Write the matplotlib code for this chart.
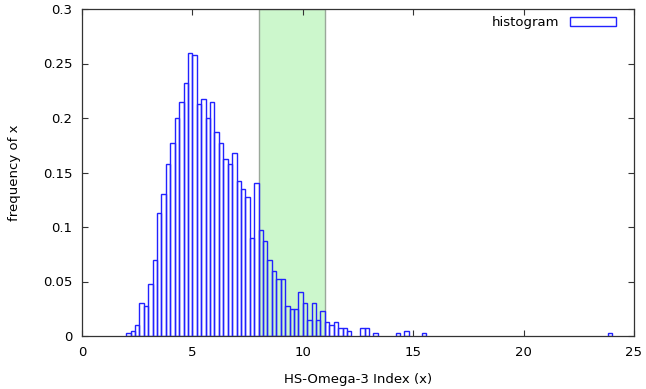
#!/usr/bin/env python3

import matplotlib
matplotlib.use('Agg')
import matplotlib.pyplot as plt
from matplotlib.patches import Patch

# left edge of each 0.2 wide bin and the frequency
bin_left = [2.0, 2.2, 2.4, 2.6, 2.8, 3.0, 3.2, 3.4, 3.6, 3.8,
            4.0, 4.2, 4.4, 4.6, 4.8, 5.0, 5.2, 5.4, 5.6, 5.8,
            6.0, 6.2, 6.4, 6.6, 6.8, 7.0, 7.2, 7.4, 7.6, 7.8,
            8.0, 8.2, 8.4, 8.6, 8.8, 9.0, 9.2, 9.4, 9.6, 9.8,
            10.0, 10.2, 10.4, 10.6, 10.8, 11.0, 11.2, 11.4, 11.6, 11.8,
            12.0, 12.6, 12.8, 13.2, 14.2, 14.6, 15.4, 23.8]
freq = [0.0025, 0.005, 0.01, 0.03, 0.0275, 0.0475, 0.07, 0.1125, 0.13, 0.1575,
        0.1775, 0.2, 0.215, 0.2325, 0.26, 0.2575, 0.2125, 0.2175, 0.2, 0.215,
        0.1875, 0.1775, 0.1625, 0.1575, 0.1675, 0.1425, 0.135, 0.1275, 0.09, 0.14,
        0.0975, 0.0875, 0.07, 0.06, 0.0525, 0.0525, 0.0275, 0.025, 0.025, 0.04,
        0.03, 0.015, 0.03, 0.015, 0.0225, 0.0125, 0.01, 0.0125, 0.0075, 0.0075,
        0.005, 0.0075, 0.0075, 0.0025, 0.0025, 0.005, 0.0025, 0.0025]
bin_width = 0.2

# shaded range on the x axis
band = (8.0, 11.0)

x_ticks = [0, 5, 10, 15, 20, 25]
y_ticks = [0, 0.05, 0.1, 0.15, 0.2, 0.25, 0.3]
y_tick_labels = ['0', '0.05', '0.1', '0.15', '0.2', '0.25', '0.3']

plt.rcParams['font.family'] = ['DejaVu Sans']
plt.rcParams['font.size'] = 9.5

fig = plt.figure(figsize=(6.46, 3.89), dpi=100)
ax = fig.add_axes([82 / 646, 53 / 389, 552 / 646, 327 / 389])

ax.axvspan(band[0], band[1], facecolor='#ccf7cc', edgecolor='#9aa89a',
           linewidth=1.0, zorder=1)
ax.bar(bin_left, freq, width=bin_width, align='edge', fill=False,
       edgecolor='#2222ff', linewidth=1.0, zorder=2)

ax.set_xlim(0, 25)
ax.set_ylim(0, 0.3)
ax.set_xticks(x_ticks)
ax.set_yticks(y_ticks)
ax.set_yticklabels(y_tick_labels)
ax.tick_params(direction='in', top=True, right=True, length=4.5,
               width=0.8, labelsize=9.5, color='#333333')
ax.tick_params(axis='x', pad=7)
ax.tick_params(axis='y', pad=7)
for s in ax.spines.values():
    s.set_color('#333333')
    s.set_linewidth(0.9)

ax.set_xlabel('HS-Omega-3 Index (x)', fontsize=9.5, labelpad=10)
ax.set_ylabel('frequency of x', fontsize=9.5, labelpad=16)

handle = Patch(facecolor='none', edgecolor='#2222ff', linewidth=1.0)
ax.legend([handle], ['histogram'], loc='upper right', frameon=False,
          bbox_to_anchor=(1 - 13 / 552, 1 - 2 / 327),
          markerfirst=False, handlelength=3.5, handleheight=0.7,
          handletextpad=0.8, borderaxespad=0, fontsize=9.5)

fig.savefig('out.png', dpi=100)
